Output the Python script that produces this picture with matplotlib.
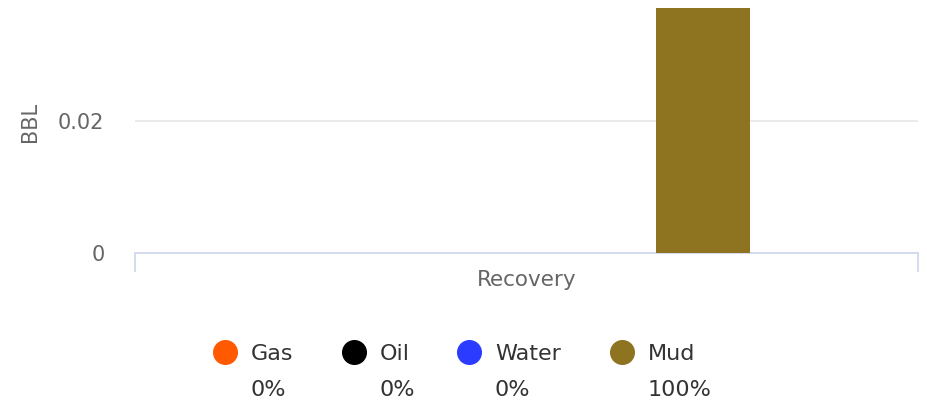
import numpy as np
import matplotlib
matplotlib.use('Agg')
import matplotlib.pyplot as plt
from matplotlib.lines import Line2D

# --- data ---
categories = ['Recovery']
series_names = ['Gas', 'Oil', 'Water', 'Mud']
series_values = [0.0, 0.0, 0.0, 0.0371]
series_colors = ['#ff5a00', '#000000', '#2b3bff', '#8e7320']
y_ticks = [0, 0.02]
y_tick_labels = ['0', '0.02']
y_label = 'BBL'

W, H, DPI = 928, 411, 100
fig = plt.figure(figsize=(W / DPI, H / DPI), dpi=DPI)
ax = fig.add_axes([135 / W, (H - 253) / H, 783 / W, 253 / H])

# highcharts-like grouping: groupPadding 0.2, pointPadding 0.1
n = len(series_names)
group_w = 0.6
slot = group_w / n
bar_w = slot * 0.8
x0 = np.arange(len(categories))
for i, (name, val, col) in enumerate(zip(series_names, series_values, series_colors)):
    off = -group_w / 2 + slot * (i + 0.5)
    if val > 0:
        ax.bar(x0 + off, [val], width=bar_w, color=col, zorder=3)

ax.set_xlim(-0.5, len(categories) - 0.5)
ax.set_ylim(0, 0.0383)

for s in ['top', 'right', 'left']:
    ax.spines[s].set_visible(False)
ax.spines['bottom'].set_color('#ccd6eb')
ax.spines['bottom'].set_linewidth(1.2)

ax.set_yticks(y_ticks)
ax.set_yticklabels(y_tick_labels)
ax.tick_params(axis='y', length=0, pad=22, labelsize=15, labelcolor='#666666')
ax.yaxis.grid(True, color='#e6e6e6', linewidth=1.2, zorder=0)
ax.set_axisbelow(True)

ax.set_xticks([-0.5, len(categories) - 0.5])
ax.set_xticklabels([])
ax.tick_params(axis='x', which='major', length=14, width=1.2, color='#ccd6eb', direction='out')
ax.set_xticks(x0, minor=True)
ax.set_xticklabels(categories, minor=True)
ax.tick_params(axis='x', which='minor', length=0, pad=12, labelsize=15.5, labelcolor='#666666')

fig.text(30 / W, 1 - 122 / H, y_label, rotation=90, ha='center', va='center',
         fontsize=15, color='#666666')

# --- legend with percentages ---
total = sum(series_values)
pcts = [v / total * 100 if total else 0 for v in series_values]
marker_x = [225, 354, 469, 622]
for mx, name, col, p in zip(marker_x, series_names, series_colors, pcts):
    fig.add_artist(Line2D([mx / W], [1 - 352 / H], marker='o', markersize=17,
                          markerfacecolor=col, markeredgecolor=col, linestyle='none',
                          transform=fig.transFigure))
    fig.text((mx + 26) / W, 1 - 354 / H, name, ha='left', va='center',
             fontsize=16, color='#333333')
    fig.text((mx + 26) / W, 1 - 390 / H, f'{p:.0f}%', ha='left', va='center',
             fontsize=16, color='#333333')

fig.savefig('out.png', dpi=DPI)
